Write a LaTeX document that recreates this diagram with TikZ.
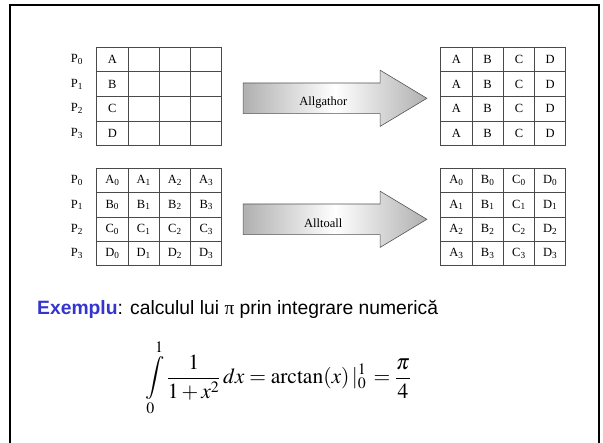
\documentclass[tikz,border=0pt]{standalone}
\usepackage{mathptmx}
\usepackage{fontspec}
\setmainfont{Liberation Serif}
\setsansfont{Liberation Sans}
\usetikzlibrary{shapes.arrows}
\definecolor{cellline}{HTML}{4A4A4A}
\definecolor{exblue}{HTML}{3434CF}
\definecolor{arrgray}{HTML}{B0B0B0}
\definecolor{arrline}{HTML}{555555}
\tikzset{
  cell/.style={draw=cellline,line width=0.9pt,minimum width=31.3pt,
               minimum height=24.5pt,inner sep=0pt,
               font=\fontsize{12.5}{14}\selectfont},
  proc/.style={inner sep=0pt,font=\fontsize{12.5}{14}\selectfont},
  bigarrow/.style={single arrow,draw=arrline,line width=0.6pt,
                   left color=arrgray,right color=arrgray,middle color=white,
                   minimum height=183.7pt,inner xsep=0pt,inner ysep=15pt,
                   single arrow head extend=12.8pt,single arrow tip angle=62},
  arrowlabel/.style={inner sep=0pt,font=\fontsize{12.5}{14}\selectfont},
  frameline/.style={draw=black,line width=2pt}
}

\begin{document}
\begin{tikzpicture}[x=1pt,y=-1pt]
    \useasboundingbox (0,0) rectangle (603,443);
    \draw[frameline] (10,446) -- (10,5) -- (598.7,5) -- (598.7,446);

    % Allgather: row P_r holds one block, afterwards all hold A..D
    \foreach \r/\l in {0/A,1/B,2/C,3/D}{
      \node[proc] (pa\r) at (77,{59.6+24.6*\r}) {P\textsubscript{\r}};
      \node[cell,minimum height=24.6pt] (ga-\r-0) at (112.35,{59.6+24.6*\r}) {\l};
      \foreach \c in {1,2,3}
        \node[cell,minimum height=24.6pt] (ga-\r-\c) at ({112.35+31.3*\c},{59.6+24.6*\r}) {};
      \foreach \c/\m in {0/A,1/B,2/C,3/D}
        \node[cell,minimum height=24.6pt] (gb-\r-\c) at ({456.35+31.3*\c},{59.6+24.6*\r}) {\m};
    }
    \node[bigarrow] (gatherarr) at (322.3,98.3) {};
    \node[arrowlabel] (gatherlbl) at (323.3,102.3) {Allgathor};

    % Alltoall: blocks get transposed
    \foreach \r/\l in {0/A,1/B,2/C,3/D}{
      \node[proc] (pb\r) at (77,{180.5+24.4*\r}) {P\textsubscript{\r}};
      \foreach \c/\m in {0/A,1/B,2/C,3/D}{
        \node[cell,minimum height=24.4pt] (ta-\r-\c) at ({112.35+31.3*\c},{180.5+24.4*\r}) {\l\textsubscript{\c}};
        \node[cell,minimum height=24.4pt] (tb-\r-\c) at ({456.35+31.3*\c},{180.5+24.4*\r}) {\m\textsubscript{\r}};
      }
    }
    \node[bigarrow] (alltoallarr) at (322.3,219.3) {};
    \node[arrowlabel] (alltoalllbl) at (323.3,223.3) {Alltoall};

    \node[anchor=base west,inner sep=0pt,font=\sffamily\fontsize{19.3}{23}\selectfont]
      (example) at (37,315)
      {\textcolor{exblue}{\bfseries Exemplu}: calculul lui {\rmfamily π} prin integrare numerică};
    \node[inner sep=0pt,font=\fontsize{21.5}{26}\selectfont] (formula) at (278,378)
      {$\displaystyle\int\limits_0^1\frac{1}{1+x^2}\,dx=\arctan(x)\,|_0^1\,=\frac{\pi}{4}$};
\end{tikzpicture}
\end{document}
